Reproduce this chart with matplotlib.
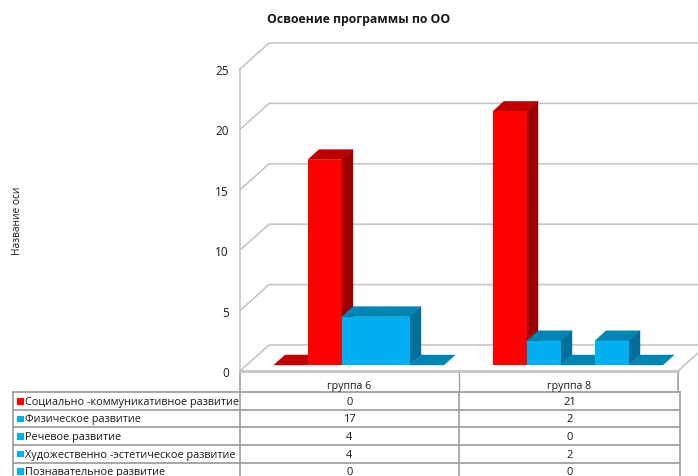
import matplotlib
matplotlib.use('Agg')
import matplotlib.pyplot as plt
from matplotlib.patches import Polygon, Rectangle

plt.rcParams['font.family'] = ['Open Sans', 'DejaVu Sans']

title = 'Освоение программы по ОО'
y_title = 'Название оси'
groups = ['группа 6', 'группа 8']
series = ['Социально -коммуникативное развитие', 'Физическое развитие', 'Речевое развитие',
          'Художественно -эстетическое развитие', 'Познавательное развитие']
group6 = [0, 17, 4, 4, 0]
group8 = [21, 2, 0, 2, 0]
y_ticks = [0, 5, 10, 15, 20, 25]

# the source draws the 17 bar red although its legend key is blue
legend_colours = ['r', 'b', 'b', 'b', 'b']
group6_colours = ['r', 'r', 'b', 'b', 'b']
group8_colours = ['r', 'b', 'b', 'b', 'b']

text_col = '#1a1a1a'
grid_col = '#c6c6c6'
front = {'r': '#ff0000', 'b': '#00b0f0'}
top = {'r': '#c00000', 'b': '#0085b5'}
side = {'r': '#a00000', 'b': '#006f99'}

W, H = 698, 477
fig = plt.figure(figsize=(W / 100, H / 100), dpi=100)

# page layer in pixels, for the table and the titles
page = fig.add_axes([0, 0, 1, 1])
page.set_xlim(0, W)
page.set_ylim(H, 0)
page.axis('off')

# plot area: x in groups, y in values, front edge of the floor at 0
ax = fig.add_axes([240 / W, 1 - 372 / H, 438 / W, 302 / H])
ax.set_xlim(0, 2)
ax.set_ylim(0, 25)
ax.patch.set_visible(False)
for s in ax.spines.values():
    s.set_visible(False)

px = 2 / 438
py = 25 / 302
wall_dx, wall_dy = 29 * px, 26 * py
bar_w = 34 * px
dep_x, dep_y = 11 * px, 10 * py
base_y = 6 * py
first = 34 * px

# walls
for v in y_ticks:
    ax.plot([0, wall_dx, 2.2], [v, v + wall_dy, v + wall_dy], color=grid_col, lw=1.2, clip_on=False, zorder=1)
ax.plot([0, 0], [0, 25], color=grid_col, lw=1.2, clip_on=False, zorder=1)
ax.plot([2, 2 + 20 * px], [0, 18 * py], color=grid_col, lw=1.2, clip_on=False, zorder=1)
ax.plot([0, 2], [0, 0], color=grid_col, lw=2, clip_on=False, zorder=1)

# bars
for g, (vals, cols) in enumerate([(group6, group6_colours), (group8, group8_colours)]):
    for i, v in enumerate(vals):
        c = cols[i]
        x0 = g + first + i * bar_w
        x1 = x0 + bar_w
        y0 = base_y
        y1 = base_y + v
        z = 3 + g * 10 + i
        ax.add_patch(Polygon([(x0, y1), (x1, y1), (x1 + dep_x, y1 + dep_y), (x0 + dep_x, y1 + dep_y)],
                             fc=top[c], ec=top[c], lw=0.3, clip_on=False, zorder=z))
        if v > 0:
            # side face is hidden when the next bar has the same height
            if i == len(vals) - 1 or vals[i + 1] != v:
                ax.add_patch(Polygon([(x1, y0), (x1 + dep_x, y0 + dep_y), (x1 + dep_x, y1 + dep_y), (x1, y1)],
                                     fc=side[c], ec=side[c], lw=0.3, clip_on=False, zorder=z))
            ax.add_patch(Rectangle((x0, y0), bar_w, v, fc=front[c], ec='none', clip_on=False, zorder=z))

ax.set_xticks([])
ax.set_yticks(y_ticks)
ax.set_yticklabels([str(v) for v in y_ticks], fontsize=8.5, color=text_col)
ax.tick_params(axis='y', length=0, pad=8)

page.text(358.5, 20, title, ha='center', va='center', fontsize=8.8, fontweight='bold', color=text_col)
page.text(17, 221, y_title, rotation=90, ha='center', va='center', fontsize=7.3, color=text_col)

# data table
col_x = [13, 240, 459, 680]
row_y = [373, 393, 411, 428, 446, 463.5, 481]
line_col = '#a0a0a0'
for y in row_y[1:]:
    page.plot([col_x[0], col_x[3]], [y, y], color=line_col, lw=1.3)
for x in col_x[2:]:
    page.plot([x, x], [row_y[1], row_y[-1]], color=line_col, lw=1.2)
page.plot([col_x[1], col_x[1]], [row_y[0], row_y[-1]], color=line_col, lw=1.2)
page.plot([col_x[2], col_x[2]], [row_y[0], row_y[1]], color=line_col, lw=1.0)
page.plot([678, 678], [row_y[0], row_y[1]], color=line_col, lw=1.2)
page.plot([col_x[0], col_x[0]], [row_y[1], row_y[-1]], color=line_col, lw=1.3)

page.text((col_x[1] + col_x[2]) / 2, 387, groups[0], ha='center', va='center', fontsize=7.7, color=text_col)
page.text((col_x[2] + col_x[3]) / 2, 387, groups[1], ha='center', va='center', fontsize=7.7, color=text_col)
for i, name in enumerate(series):
    yc = (row_y[i + 1] + row_y[i + 2]) / 2 + 0.5
    page.add_patch(Rectangle((17, yc - 3.5), 6.5, 6.5, fc=front[legend_colours[i]], ec='none'))
    page.text(25, yc, name, ha='left', va='center', fontsize=7.85, color=text_col)
    page.text((col_x[1] + col_x[2]) / 2, yc, str(group6[i]), ha='center', va='center', fontsize=8, color=text_col)
    page.text((col_x[2] + col_x[3]) / 2, yc, str(group8[i]), ha='center', va='center', fontsize=8, color=text_col)

fig.savefig('out.png', dpi=100)
